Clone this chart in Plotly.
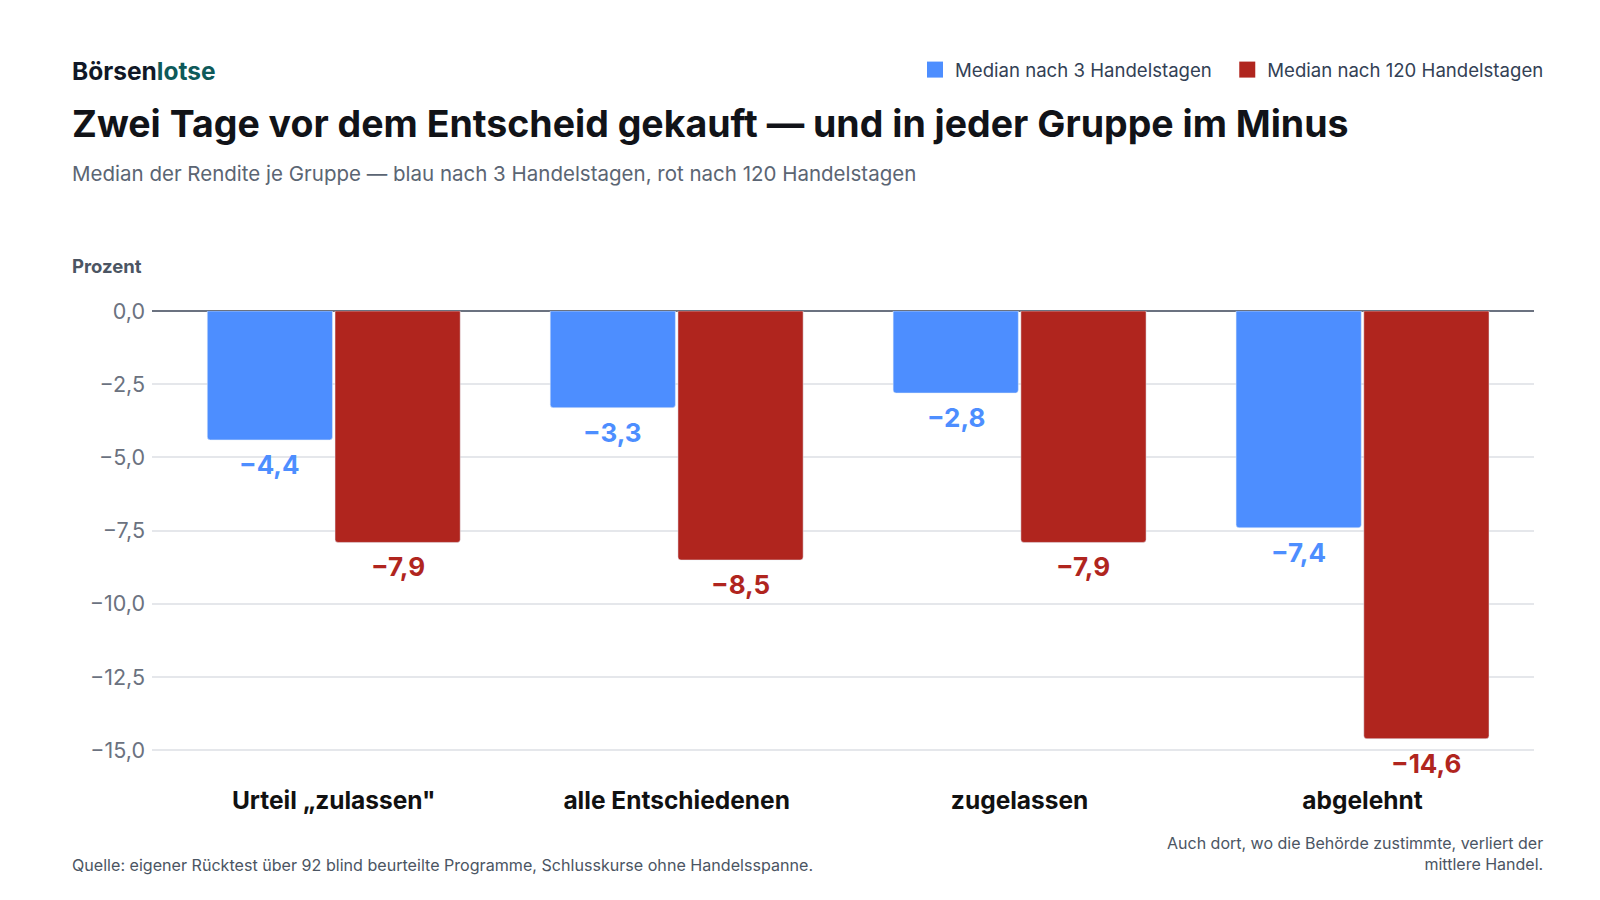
import plotly.graph_objects as go

# Daten
gruppen = ["Urteil „zulassen\"", "alle Entschiedenen", "zugelassen", "abgelehnt"]
median_3 = [-4.4, -3.3, -2.8, -7.4]
median_120 = [-7.9, -8.5, -7.9, -14.6]
serien = ["Median nach 3 Handelstagen", "Median nach 120 Handelstagen"]
y_ticks = [0, -2.5, -5, -7.5, -10, -12.5, -15]

BLAU = "#4d8eff"
ROT = "#b0251e"
FONT = "Inter, Roboto, sans-serif"

W, H = 1600, 900
L, R, T, B = 144, 74, 303, 140
pw, ph = W - L - R, H - T - B
X_RANGE = [-0.53, 3.5]
BARGAP, GROUPGAP = 0.255, 0.02


def px_x(x):
    return (x - L) / pw


def px_y(y):
    return 1 - (y - T) / ph


def de(v):
    s = f"{abs(v):.1f}".replace(".", ",")
    return ("−" + s) if v < 0 else s


fig = go.Figure()
for werte, farbe in [(median_3, BLAU), (median_120, ROT)]:
    fig.add_trace(go.Bar(
        x=gruppen, y=werte, showlegend=False,
        marker=dict(color=farbe, cornerradius=3),
        hoverinfo="skip",
    ))

# Legende mit größeren Quadraten
for name, farbe in zip([serien[0] + "\u00a0\u00a0", serien[1]], [BLAU, ROT]):
    fig.add_trace(go.Scatter(
        x=[None], y=[None], mode="markers", name=name,
        marker=dict(symbol="square", size=17, color=farbe),
        hoverinfo="skip",
    ))

# Wertebeschriftung unter jedem Balken
kat_px = pw / (X_RANGE[1] - X_RANGE[0])
slot = kat_px * (1 - BARGAP) / 2
for i, (werte, farbe) in enumerate([(median_3, BLAU), (median_120, ROT)]):
    for g, v in zip(gruppen, werte):
        fig.add_annotation(
            x=g, y=v, xref="x", yref="y", text=de(v), showarrow=False,
            xanchor="center", yanchor="top",
            xshift=(i - 0.5) * slot, yshift=-7,
            font=dict(size=26, color=farbe, family=FONT, weight=700),
        )

fig.update_layout(
    width=W, height=H,
    margin=dict(l=L, r=R, t=T, b=B),
    paper_bgcolor="white", plot_bgcolor="white",
    font=dict(family=FONT, color="#111827"),
    barmode="group", bargap=BARGAP, bargroupgap=GROUPGAP,
    showlegend=True,
    legend=dict(
        orientation="h", x=px_x(1541), xanchor="right",
        y=px_y(62), yanchor="middle",
        font=dict(size=18.6, color="#334155", family=FONT),
        traceorder="normal", itemsizing="trace",
    ),
)

fig.update_xaxes(
    range=X_RANGE, showgrid=False, showline=False, ticks="",
    tickfont=dict(size=24.5, color="#111111", family=FONT, weight=700),
    ticklabelstandoff=15,
)
fig.update_yaxes(
    range=[-15.6, 0], tickvals=y_ticks, ticktext=[de(v) for v in y_ticks],
    showgrid=True, gridcolor="#e5e7eb", gridwidth=1.5,
    zeroline=True, zerolinecolor="#6b7280", zerolinewidth=1.5,
    showline=False, ticks="",
    tickfont=dict(size=21.5, color="#6b7280", family=FONT),
    ticklabelstandoff=6,
)

notes = [
    dict(x=px_x(62), y=px_y(63), text="<b>Börsen<span style='color:#0e5a5a'>lotse</span></b>",
         size=24.5, color="#111827", xanchor="left"),
    dict(x=px_x(62), y=px_y(115),
         text="<b>Zwei Tage vor dem Entscheid gekauft — und in jeder Gruppe im Minus</b>",
         size=37.5, color="#111318", xanchor="left"),
    dict(x=px_x(62), y=px_y(165),
         text="Median der Rendite je Gruppe — blau nach 3 Handelstagen, rot nach 120 Handelstagen",
         size=20.5, color="#5b6573", xanchor="left"),
    dict(x=px_x(62), y=px_y(258), text="<b>Prozent</b>",
         size=18.5, color="#4b5563", xanchor="left"),
    dict(x=px_x(62), y=px_y(857),
         text="Quelle: eigener Rücktest über 92 blind beurteilte Programme, Schlusskurse ohne Handelsspanne.",
         size=16.1, color="#4b5563", xanchor="left"),
    dict(x=px_x(1537), y=px_y(845),
         text="Auch dort, wo die Behörde zustimmte, verliert der<br>mittlere Handel.",
         size=16.0, color="#4b5563", xanchor="right", align="right"),
]
for n in notes:
    fig.add_annotation(
        xref="paper", yref="paper", x=n["x"], y=n["y"], text=n["text"],
        showarrow=False, xanchor=n["xanchor"], yanchor="middle",
        align=n.get("align", "left"),
        font=dict(size=n["size"], color=n["color"], family=FONT),
    )

fig.write_html("out.html")
